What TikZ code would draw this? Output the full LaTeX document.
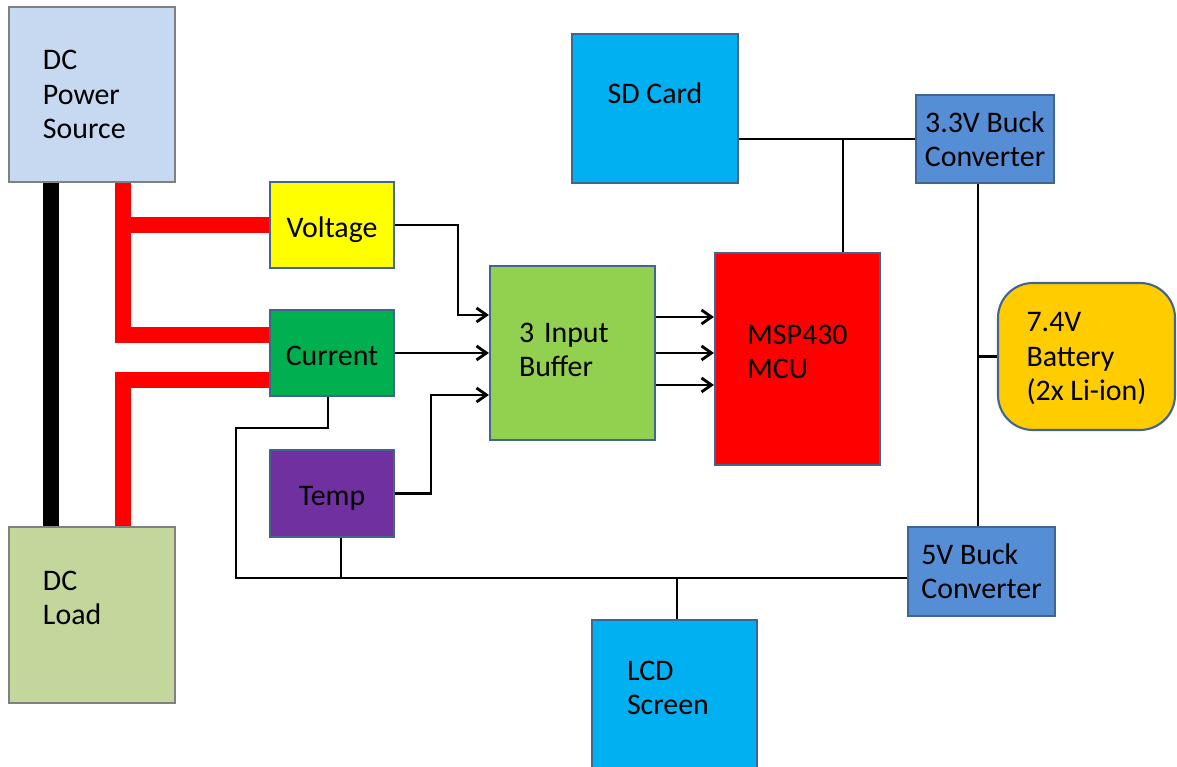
\documentclass[tikz,border=0pt]{standalone}
\usepackage{fontspec}
\setmainfont{Carlito}
\usetikzlibrary{arrows.meta}
\definecolor{srcfill}{RGB}{198,217,240}
\definecolor{loadfill}{RGB}{195,214,155}
\definecolor{edgegray}{RGB}{128,128,128}
\definecolor{edgeblue}{RGB}{65,100,145}
\definecolor{voltc}{RGB}{255,255,0}
\definecolor{currc}{RGB}{0,176,80}
\definecolor{tempc}{RGB}{112,48,160}
\definecolor{bufc}{RGB}{146,208,80}
\definecolor{mcuc}{RGB}{255,0,0}
\definecolor{cyanc}{RGB}{0,176,240}
\definecolor{buckc}{RGB}{85,142,213}
\definecolor{batc}{RGB}{255,204,0}
\newcommand\boxfont{\fontsize{17}{19.5}\selectfont}
\tikzset{
  blk/.style={draw=edgeblue,line width=1.2pt,font=\boxfont,align=left,inner sep=0pt},
  pwr/.style={blk,draw=edgegray,line width=1.5pt},
  sens/.style={blk,minimum width=2.48cm,text height=14pt,text depth=0pt},
  wire/.style={line width=1.6pt},
  ar/.style={wire,-{Straight Barb[length=2mm,width=2.8mm]}},
  bar/.style={line width=9pt},
}
\begin{document}
\begin{tikzpicture}
  \useasboundingbox (0,0) rectangle (23.54,15.34);
  % blocks
  \node[pwr,fill=srcfill,minimum width=3.32cm,minimum height=3.5cm,text width=1.96cm,inner xsep=0.68cm] (src) at (1.84,13.45) {DC\\Power\\Source};
  \node[pwr,fill=loadfill,minimum width=3.32cm,minimum height=3.52cm,text width=1.96cm,inner xsep=0.68cm,text depth=1.37cm] (load) at (1.84,3.04) {DC\\Load};
  \node[sens,fill=voltc,minimum height=1.72cm] (volt) at (6.64,10.84) {Voltage};
  \node[sens,fill=currc,minimum height=1.72cm] (curr) at (6.64,8.28) {Current};
  \node[sens,fill=tempc,minimum height=1.74cm] (temp) at (6.64,5.47) {Temp};
  \node[blk,fill=bufc,minimum width=3.3cm,minimum height=3.48cm,text width=2.14cm,inner xsep=0.58cm,text depth=0.8cm] (buf) at (11.45,8.28) {3 Input\\Buffer};
  \node[blk,fill=mcuc,minimum width=3.3cm,minimum height=4.24cm,text depth=0.28cm] (mcu) at (15.95,8.16) {MSP430\\MCU};
  \node[blk,fill=cyanc,minimum width=3.32cm,minimum height=2.98cm,text depth=0.62cm] (sd) at (13.1,13.17) {SD Card};
  \node[blk,fill=buckc,minimum width=2.76cm,minimum height=1.76cm,align=center] (b33) at (19.7,12.56) {3.3V Buck\\Converter};
  \node[blk,fill=batc,rounded corners=0.7cm,minimum width=3.54cm,minimum height=2.94cm,text depth=0pt] (bat) at (21.73,8.21) {7.4V\\Battery\\(2x Li-ion)};
  \node[blk,fill=buckc,minimum width=2.94cm,minimum height=1.78cm] (b5) at (19.63,3.91) {5V Buck\\Converter};
  \node[blk,fill=cyanc,minimum width=3.3cm,minimum height=3.2cm,text width=1.9cm,inner xsep=0.7cm,text depth=1.17cm] (lcd) at (13.49,1.34) {LCD\\Screen};

  % power lines
  \draw[bar,black] ([xshift=-0.82cm]src.south) -- ([xshift=-0.82cm]load.north);
  \draw[bar,red] ([xshift=0.62cm]src.south) coordinate (rtop) |- ([yshift=0.36cm]curr.west);
  \draw[bar,red] (volt.west) -- (volt.west -| rtop);
  \draw[bar,red] ([yshift=-0.54cm]curr.west) -| ([xshift=0.62cm]load.north);

  % signals
  \draw[ar] (volt.east) -- ++(1.26,0) |- ([yshift=0.76cm]buf.west);
  \draw[ar] (curr) -- (buf);
  \draw[ar] (temp.east) -- ++(0.72,0) |- ([yshift=-0.84cm]buf.west);
  \foreach \dy in {0.72,0,-0.64}
    \draw[ar] ([yshift=\dy cm]buf.east) coordinate (o) -- (o -| mcu.west);

  % supply rails
  \draw[wire] (b33.west) -- (b33.west -| sd.east);
  \draw[wire] ([xshift=0.91cm]mcu.north) coordinate (mtop) -- (mtop |- b33.west);
  \draw[wire] ([xshift=-0.14cm]b33.south) coordinate (rail) -- (rail |- b5.north);
  \draw[wire] (bat.west) -- (bat.west -| rail);
  \draw[wire] ([yshift=-0.13cm]b5.west) coordinate (bus) -| (4.72,6.78) -| ([xshift=-0.08cm]curr.south);
  \draw[wire] ([xshift=0.18cm]temp.south) coordinate (tbot) -- (tbot |- bus);
  \draw[wire] ([xshift=0.05cm]lcd.north) coordinate (ltop) -- (ltop |- bus);
\end{tikzpicture}
\end{document}
